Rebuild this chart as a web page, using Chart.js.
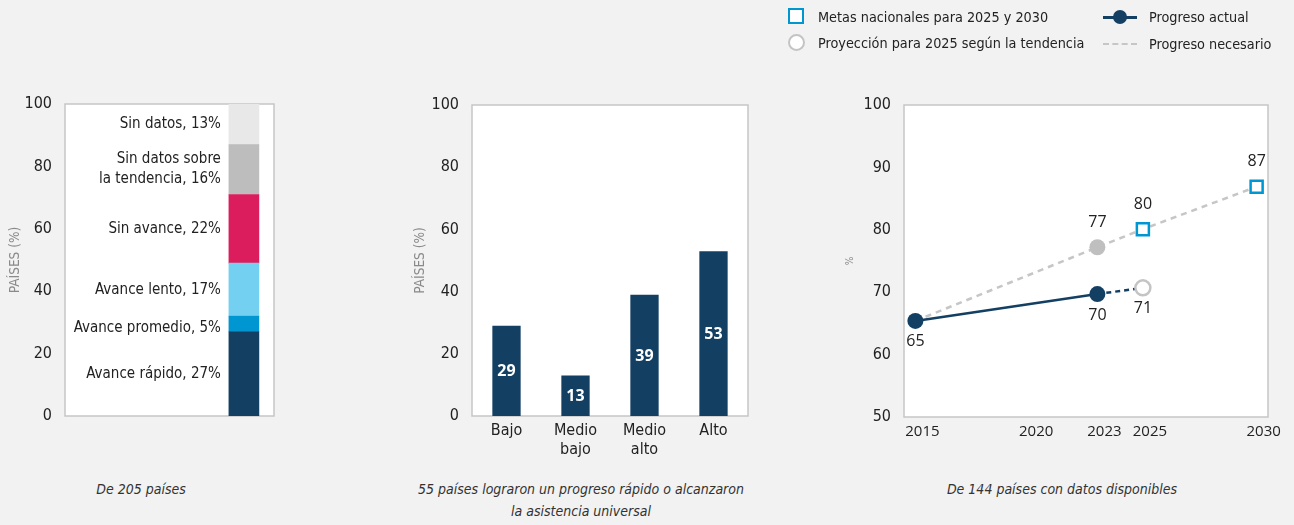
<!DOCTYPE html>
<html>
<head>
<meta charset="utf-8">
<script src="https://cdn.jsdelivr.net/npm/chart.js@4.4.1/dist/chart.umd.min.js"></script>
<style>
  body { margin: 0; width: 1294px; height: 525px; background: #f2f2f2; position: relative; overflow: hidden;
         font-family: 'Liberation Sans Narrow', 'DejaVu Sans Condensed', Roboto, sans-serif; color: #222; }
  .box { position: absolute; top: 0; }
  .leg { position: absolute; font-size: 14.3px; line-height: 18px; white-space: nowrap; }
  .leg i { position: absolute; display: block; }
  .cap { position: absolute; font-style: italic; font-size: 14px; line-height: 22px; text-align: center; color: #333; }
</style>
</head>
<body>

<div class="box" style="left:0;width:300px;height:470px"><canvas id="status" width="300" height="470"></canvas></div>
<div class="box" style="left:380px;width:400px;height:470px"><canvas id="income" width="400" height="470"></canvas></div>
<div class="box" style="left:830px;width:464px;height:470px"><canvas id="trend" width="464" height="470"></canvas></div>

<!-- legend for the trend chart -->
<div class="leg" style="left:818px;top:8px"><i style="left:-30px;top:0px;width:12px;height:12px;border:2.5px solid #0096d2;background:#fff"></i>Metas nacionales para 2025 y 2030</div>
<div class="leg" style="left:818px;top:34px"><i style="left:-30px;top:0px;width:13px;height:13px;border:2px solid #c4c4c4;border-radius:50%;background:#fff"></i>Proyección para 2025 según la tendencia</div>
<div class="leg" style="left:1149px;top:8px"><i style="left:-46px;top:8px;width:34px;height:2.5px;background:#133f63"></i><i style="left:-36px;top:2px;width:14px;height:14px;border-radius:50%;background:#133f63"></i>Progreso actual</div>
<div class="leg" style="left:1149px;top:35px"><i style="left:-46px;top:8px;width:34px;height:0;border-top:2px dashed #c6c6c6"></i>Progreso necesario</div>

<div class="cap" style="left:41px;top:478px;width:200px">De 205 países</div>
<div class="cap" style="left:381px;top:478px;width:400px">55 países lograron un progreso rápido o alcanzaron<br>la asistencia universal</div>
<div class="cap" style="left:912px;top:478px;width:300px">De 144 países con datos disponibles</div>

<script>
/* ─── DATA ─── */
const statusNames  = ['Avance rápido', 'Avance promedio', 'Avance lento', 'Sin avance', 'Sin datos sobre\nla tendencia', 'Sin datos'];
const statusValues = [27, 5, 17, 22, 16, 13];

const incomeGroups = ['Bajo', ['Medio', 'bajo'], ['Medio', 'alto'], 'Alto'];
const incomeValues = [29, 13, 39, 53];

const trendTicks       = [2015, 2020, 2023, 2025, 2030];
const actualYears      = [2015, 2023];
const actualValues     = [65.4, 69.7];
const projectionYears  = [2023, 2025];
const projectionValues = [69.7, 70.7];
const neededYears      = [2015, 2023, 2025, 2030];
const neededValues     = [65.4, 77.2, 80.1, 86.9];
const targetYears      = [2025, 2030];
const targetValues     = [80.1, 86.9];

/* ─── STYLE ─── */
const NARROW = "'Liberation Sans Narrow', 'DejaVu Sans Condensed', Roboto, sans-serif";
const OPEN   = "'Open Sans', sans-serif";
const NAVY = '#133f63';
const STATUS_COLORS = ['#133f63', '#0096d2', '#74d0f1', '#dc1d5d', '#bdbdbd', '#e8e8e8'];
const TICK_FONT = { family: NARROW, size: 16 };

const plotFrame = {
  id: 'plotFrame',
  beforeDatasetsDraw(chart) {
    const { ctx, chartArea: a } = chart;
    ctx.save();
    ctx.fillStyle = '#fff';
    ctx.fillRect(a.left, a.top, a.width, a.height);
    ctx.strokeStyle = '#c6c6c6';
    ctx.lineWidth = 1.5;
    ctx.strokeRect(a.left, a.top, a.width, a.height);
    ctx.restore();
  }
};

function yAxis(min, max, step, width, titleText, titleSize, titlePad) {
  return {
    min, max,
    grid: { display: false, drawTicks: false },
    border: { display: false },
    ticks: { stepSize: step, color: '#222', font: TICK_FONT, padding: 13 },
    title: { display: true, text: titleText, color: '#8a8a8a', font: { family: NARROW, size: titleSize }, padding: { top: titlePad, bottom: 0 } },
    afterFit: s => { s.width = width; }
  };
}

/* ─── 1. STACKED STATUS BAR ─── */
const segmentLabels = {
  id: 'segmentLabels',
  afterDatasetsDraw(chart) {
    const { ctx } = chart;
    ctx.save();
    ctx.font = `15px ${NARROW}`;
    ctx.fillStyle = '#222';
    ctx.textAlign = 'right';
    ctx.textBaseline = 'middle';
    chart.data.datasets.forEach((ds, i) => {
      const bar = chart.getDatasetMeta(i).data[0];
      const text = ds.label + ', ' + ds.data[0].y + '%';
      const lines = text.split('\n');
      const mid = (bar.y + bar.base) / 2 + (ds.labelNudge || 0);
      const x = bar.x - bar.width / 2 - 8;
      lines.forEach((t, k) => ctx.fillText(t, x, mid + (k - (lines.length - 1) / 2) * 20));
    });
    ctx.restore();
  }
};

new Chart(document.getElementById('status'), {
  type: 'bar',
  data: {
    datasets: statusNames.map((name, i) => ({
      label: name,
      data: [{ x: 0.856, y: statusValues[i] }],
      backgroundColor: STATUS_COLORS[i],
      barThickness: 30,
      labelNudge: i === 1 ? 4 : 0
    }))
  },
  options: {
    responsive: false,
    animation: false,
    layout: { padding: { left: 0, right: 26, top: 104, bottom: 54 } },
    plugins: { legend: { display: false }, tooltip: { enabled: false } },
    scales: {
      x: { type: 'linear', min: 0, max: 1, offset: false, stacked: true, display: false },
      y: { ...yAxis(0, 100, 20, 65, 'PAÍSES (%)', 13.5, 7), stacked: true }
    }
  },
  plugins: [plotFrame, segmentLabels]
});

/* ─── 2. INCOME GROUP BARS ─── */
const barValueLabels = {
  id: 'barValueLabels',
  afterDatasetsDraw(chart) {
    const { ctx } = chart;
    ctx.save();
    ctx.font = `bold 16px ${OPEN}`;
    ctx.fillStyle = '#fff';
    ctx.textAlign = 'center';
    ctx.textBaseline = 'middle';
    chart.getDatasetMeta(0).data.forEach((bar, i) => {
      ctx.fillText(chart.data.datasets[0].data[i], bar.x, (bar.y + bar.base) / 2 + 1);
    });
    ctx.restore();
  }
};

new Chart(document.getElementById('income'), {
  type: 'bar',
  data: {
    labels: incomeGroups,
    datasets: [{ data: incomeValues, backgroundColor: NAVY, categoryPercentage: 1, barPercentage: 0.41 }]
  },
  options: {
    responsive: false,
    animation: false,
    layout: { padding: { left: 0, right: 32, top: 105, bottom: 0 } },
    plugins: { legend: { display: false }, tooltip: { enabled: false } },
    scales: {
      x: {
        grid: { display: false, drawTicks: false },
        border: { display: false },
        ticks: { color: '#222', font: { family: NARROW, size: 16 }, padding: 5, maxRotation: 0 },
        afterFit: s => { s.height = 54; }
      },
      y: yAxis(0, 100, 20, 92, 'PAÍSES (%)', 13.5, 32)
    }
  },
  plugins: [plotFrame, barValueLabels]
});

/* ─── 3. TREND LINES ─── */
const pointLabels = {
  id: 'pointLabels',
  afterDatasetsDraw(chart) {
    const { ctx } = chart;
    ctx.save();
    ctx.font = `16px ${OPEN}`;
    ctx.fillStyle = '#222';
    ctx.textAlign = 'center';
    ctx.textBaseline = 'middle';
    chart.data.datasets.forEach((ds, i) => {
      if (!ds.valueLabels) return;
      chart.getDatasetMeta(i).data.forEach((pt, k) => {
        const where = ds.valueLabels[k];
        if (!where) return;
        const dy = where === 'above' ? -25 : 21;
        ctx.fillText(Math.round(ds.data[k].y), pt.x, pt.y + dy);
      });
    });
    ctx.restore();
  }
};

const toPoints = (xs, ys) => xs.map((x, i) => ({ x, y: ys[i] }));

new Chart(document.getElementById('trend'), {
  type: 'line',
  data: {
    datasets: [
      {
        label: 'Progreso actual',
        data: toPoints(actualYears, actualValues),
        borderColor: NAVY, borderWidth: 2.5,
        pointRadius: 8, pointBackgroundColor: NAVY, pointBorderWidth: 0,
        valueLabels: ['below', 'below']
      },
      {
        label: 'Proyección para 2025 según la tendencia',
        data: toPoints(projectionYears, projectionValues),
        borderColor: NAVY, borderWidth: 2.5, borderDash: [5, 4],
        pointRadius: [0, 7.5], pointBackgroundColor: '#fff', pointBorderColor: '#c4c4c4', pointBorderWidth: 2.5,
        valueLabels: [null, 'below']
      },
      {
        label: 'Metas nacionales para 2025 y 2030',
        data: toPoints(targetYears, targetValues),
        showLine: false,
        pointStyle: 'rect', pointRadius: 8.5, pointBackgroundColor: '#fff', pointBorderColor: '#0096d2', pointBorderWidth: 2.5,
        valueLabels: ['above', 'above']
      },
      {
        label: 'Progreso necesario',
        data: toPoints(neededYears, neededValues),
        borderColor: '#c6c6c6', borderWidth: 2.5, borderDash: [6, 5],
        pointRadius: [0, 8, 0, 0], pointBackgroundColor: '#bfbfbf', pointBorderWidth: 0,
        valueLabels: [null, 'above', null, null]
      }
    ]
  },
  options: {
    responsive: false,
    animation: false,
    layout: { padding: { left: 0, right: 26, top: 105, bottom: 0 } },
    plugins: { legend: { display: false }, tooltip: { enabled: false } },
    scales: {
      x: {
        type: 'linear', min: 2014.5, max: 2030.5,
        grid: { display: false, drawTicks: false },
        border: { display: false },
        afterBuildTicks: s => { s.ticks = trendTicks.map(v => ({ value: v })); },
        ticks: { color: '#222', font: { family: OPEN, size: 15 }, padding: 6, labelOffset: 7, maxRotation: 0, autoSkip: false, callback: v => String(v) },
        afterFit: s => { s.height = 53; }
      },
      y: yAxis(50, 100, 10, 74, '%', 10, 14)
    }
  },
  plugins: [plotFrame, pointLabels]
});
</script>
</body>
</html>
